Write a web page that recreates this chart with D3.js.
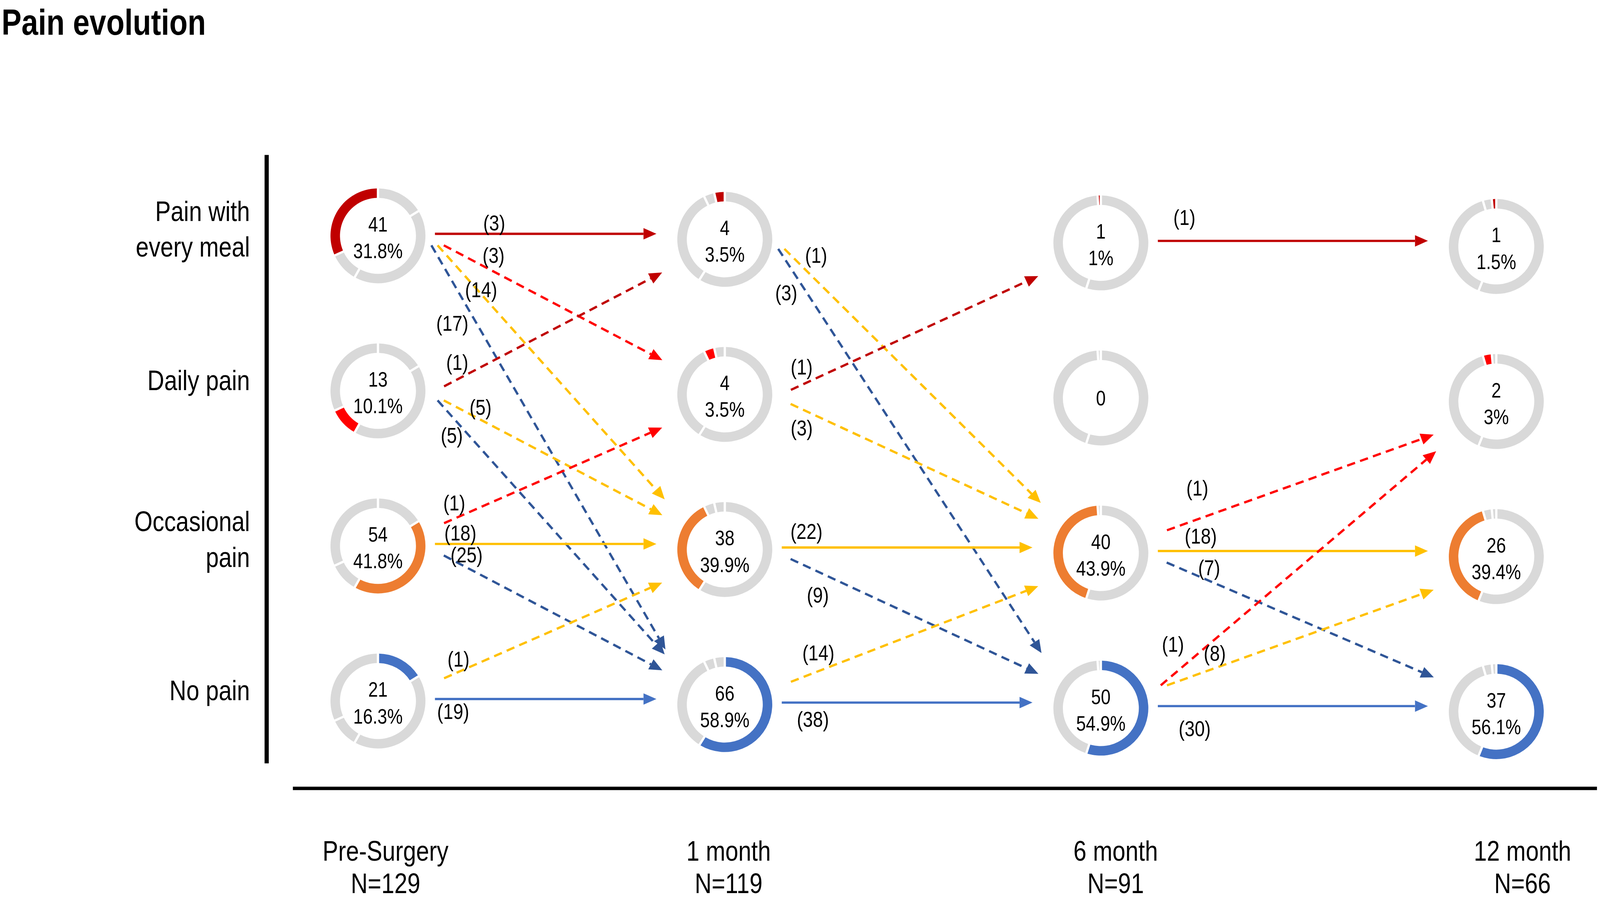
<!DOCTYPE html>
<html>
<head>
<meta charset="utf-8">
<script src="https://cdn.jsdelivr.net/npm/d3@7/dist/d3.min.js"></script>
<style>
  html, body { margin: 0; padding: 0; background: #ffffff; overflow: hidden; width: 100%; height: 100%; }
  svg { display: block; width: 100vw; height: 100vh; }
</style>
</head>
<body>
<svg id="chart" viewBox="0 0 4212 2361" preserveAspectRatio="xMinYMin meet"></svg>
<script>
// ---------------- DATA ----------------
const title = "Pain evolution";
const stages = ["Pre-Surgery", "1 month", "6 month", "12 month"];
const stageN = ["N=129", "N=119", "N=91", "N=66"];
const categories = ["Pain with every meal", "Daily pain", "Occasional pain", "No pain"];
const categoryLines = [["Pain with", "every meal"], ["Daily pain"], ["Occasional", "pain"], ["No pain"]];

const everyMealCounts  = [41, 4, 1, 1];
const dailyCounts      = [13, 4, 0, 2];
const occasionalCounts = [54, 38, 40, 26];
const noPainCounts     = [21, 66, 50, 37];

const everyMealPct  = ["31.8%", "3.5%", "1%", "1.5%"];
const dailyPct      = ["10.1%", "3.5%", "", "3%"];
const occasionalPct = ["41.8%", "39.9%", "43.9%", "39.4%"];
const noPainPct     = ["16.3%", "58.9%", "54.9%", "56.1%"];

// transitions: [from category, to category, patients]
const flowsPreTo1 = [[0,0,3],[0,1,3],[0,2,14],[0,3,17],[1,0,1],[1,2,5],[1,3,5],[2,1,1],[2,2,18],[2,3,25],[3,2,1],[3,3,19]];
const flows1To6   = [[0,2,1],[0,3,3],[1,0,1],[1,2,3],[2,2,22],[2,3,9],[3,2,14],[3,3,38]];
const flows6To12  = [[0,0,1],[2,1,1],[2,2,18],[2,3,7],[3,1,1],[3,2,8],[3,3,30]];

// ---------------- LAYOUT / STYLE ----------------
const W = 4212, H = 2361;
const catColors = ["#C00000", "#FF0000", "#ED7D31", "#4472C4"];
const arrowColorsSolid = ["#C00000", "#FF0000", "#FFC000", "#4472C4"];
const arrowColorsDash  = ["#C00000", "#FF0000", "#FFC000", "#2F5597"];
const ringGray = "#D9D9D9";
// label placement hints: distance along arrow, perpendicular offset (+ = upper side)
const labelAlong = [[156,128,163,205,60,94,93,46,67,52,55,48],[71,108,51,53,65,105,95,82],[70,113,113,108,95,147,97]];
const labelSide  = [[29,38,8,-55,40,29,-33,38,29,30,31,-32],[47,-45,43,-45,43,-56,45,-44],[62,78,40,32,62,37,-59]];

// font detection (narrow face)
function fontAvailable(name) {
  const c = document.createElement("canvas").getContext("2d");
  const t = "Daily pain Occasional 0123456789";
  c.font = "72px monospace"; const a = c.measureText(t).width;
  c.font = `72px "${name}", monospace`; const b = c.measureText(t).width;
  return Math.abs(a - b) > 0.5;
}
let FAMILY = '"Liberation Sans Narrow", "Arial Narrow", sans-serif', SX = 1;
if (!fontAvailable("Liberation Sans Narrow")) {
  FAMILY = '"Liberation Sans", Arial, sans-serif'; SX = 0.82;
}

const svg = d3.select("#chart");
svg.append("rect").attr("width", W).attr("height", H).attr("fill", "#fff");

function txt(g, x, y, s, size, anchor, weight) {
  return g.append("text")
    .attr("transform", `translate(${x},${y}) scale(${SX},1)`)
    .attr("text-anchor", anchor || "middle")
    .attr("font-family", FAMILY)
    .attr("font-size", size)
    .attr("font-weight", weight || "normal")
    .attr("fill", "#000")
    .text(s);
}

// scales
const xStage = d3.scaleOrdinal().domain(stages).range([995, 1908, 2898, 3939]);
const xStageLabel = d3.scaleOrdinal().domain(stages).range([1015, 1918, 2937, 4008]);
const yCat = d3.scalePoint().domain(categories).range([621, 1846]);
const tilt = d3.scaleLinear().domain([0, 3]).range([0, 28]);
const cx = s => xStage(stages[s]);
const cy = (s, c) => yCat(categories[c]) + tilt(s);

// title
txt(svg, 4, 92, title, 96, "start", "bold");

// axes lines
svg.append("line").attr("x1", 702).attr("x2", 702).attr("y1", 408).attr("y2", 2010)
  .attr("stroke", "#000").attr("stroke-width", 11);
svg.append("line").attr("x1", 771).attr("x2", 4204).attr("y1", 2076).attr("y2", 2076)
  .attr("stroke", "#000").attr("stroke-width", 9);

// row labels
categoryLines.forEach((lines, c) => {
  const y = cy(0, c);
  if (lines.length === 1) txt(svg, 658, y - 2, lines[0], 75, "end");
  else { txt(svg, 658, y - 39, lines[0], 75, "end"); txt(svg, 658, y + 55, lines[1], 75, "end"); }
});

// column labels
stages.forEach((s, i) => {
  txt(svg, xStageLabel(s), 2266, s, 75, "middle");
  txt(svg, xStageLabel(s), 2352, stageN[i], 75, "middle");
});

// donuts
const countsByCat = [everyMealCounts, dailyCounts, occasionalCounts, noPainCounts];
const pctByCat = [everyMealPct, dailyPct, occasionalPct, noPainPct];
const pieOrder = [3, 2, 1, 0]; // clockwise from top: no pain, occasional, daily, every meal
const pie = d3.pie().sort(null).value(d => d.v);
const arc = d3.arc().innerRadius(100).outerRadius(125).padAngle(6 / 112).padRadius(112);

stages.forEach((s, si) => {
  const slices = pie(pieOrder.map(c => ({ c, v: countsByCat[c][si] })));
  categories.forEach((cat, ci) => {
    const g = svg.append("g").attr("transform", `translate(${cx(si)},${cy(si, ci)})`);
    slices.forEach(sl => {
      if (sl.data.v <= 0) return;
      g.append("path").attr("d", arc(sl))
        .attr("fill", sl.data.c === ci ? catColors[ci] : ringGray);
    });
    const n = countsByCat[ci][si], p = pctByCat[ci][si];
    if (p) { txt(g, 0, -11, String(n), 56); txt(g, 0, 59, p, 56); }
    else txt(g, 0, 19, String(n), 56);
  });
});

// arrows
const arrowsG = svg.append("g");
const HEAD_L = 34, HEAD_W = 15;
[flowsPreTo1, flows1To6, flows6To12].forEach((flows, si) => {
  flows.forEach(([from, to, n], k) => {
    const sx = cx(si), sy = cy(si, from), tx = cx(si + 1), ty = cy(si + 1, to);
    const d = ty - sy;
    let x1, y1, x2, y2, color, dashed = from !== to;
    if (!dashed) {
      const y = (sy + ty) / 2 - 10;
      x1 = sx + 150; y1 = y; x2 = tx - 180; y2 = y;
      color = arrowColorsSolid[to];
    } else {
      x1 = sx + 190 - 0.04 * Math.abs(d);
      y1 = sy + (d > 0 ? 25 : (to === 0 ? -12 : -60));
      const dyE = -150 * Math.tanh(d / 600);
      x2 = tx - (178 - 0.15 * Math.abs(dyE));
      y2 = ty + dyE;
      color = arrowColorsDash[to];
    }
    const len = Math.hypot(x2 - x1, y2 - y1), ux = (x2 - x1) / len, uy = (y2 - y1) / len;
    const bx = x2 - ux * HEAD_L, by = y2 - uy * HEAD_L;
    arrowsG.append("line").attr("x1", x1).attr("y1", y1).attr("x2", bx).attr("y2", by)
      .attr("stroke", color).attr("stroke-width", 6)
      .attr("stroke-dasharray", dashed ? "22,14" : null);
    arrowsG.append("path")
      .attr("d", `M${x2},${y2}L${bx + uy * HEAD_W},${by - ux * HEAD_W}L${bx - uy * HEAD_W},${by + ux * HEAD_W}Z`)
      .attr("fill", color);
    // label
    const a = labelAlong[si][k], sd = labelSide[si][k];
    const lx = x1 + ux * a + uy * sd, ly = y1 + uy * a - ux * sd;
    txt(svg, lx, ly + 20, `(${n})`, 58, "middle");
  });
});
</script>
</body>
</html>
